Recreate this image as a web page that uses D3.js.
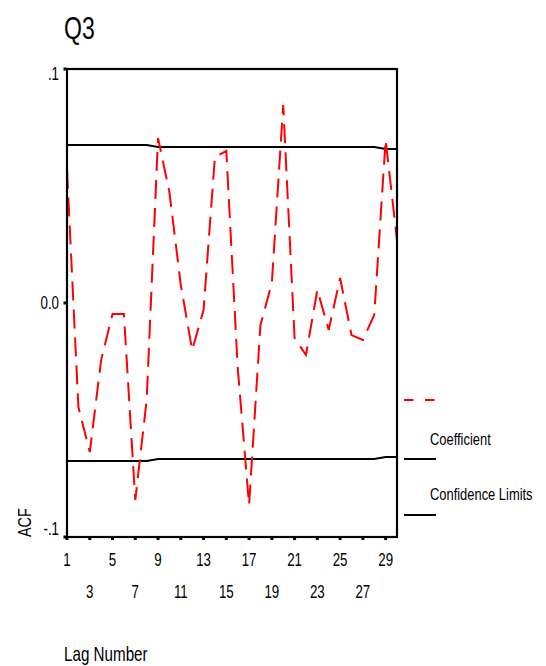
<!DOCTYPE html>
<html><head><meta charset="utf-8">
<script src="https://cdn.jsdelivr.net/npm/d3@7"></script>
<style>
html,body{margin:0;padding:0;background:#fff;}
text{font-family:"Liberation Sans",Arial,sans-serif;fill:#000;}
</style></head>
<body>
<svg id="chart" width="546" height="666"></svg>
<script>
const lags = d3.range(1, 31);
const coefficient = [0.057,-0.0444,-0.0637,-0.0244,-0.0047,-0.0047,-0.0842,-0.0415,0.0705,0.0474,
  0.0077,-0.0201,-0.003,0.0624,0.065,-0.0275,-0.0863,-0.0094,0.0085,0.0846,
  -0.015,-0.0222,0.0056,-0.0115,0.0107,-0.0137,-0.0158,-0.0051,0.0697,0.0269];
const upperLimit = [0.0675,0.0675,0.0675,0.0675,0.0675,0.0675,0.0675,0.0675,0.0667,0.0667,
  0.0667,0.0667,0.0667,0.0667,0.0667,0.0667,0.0667,0.0667,0.0667,0.0667,
  0.0667,0.0667,0.0667,0.0667,0.0667,0.0667,0.0667,0.0667,0.0658,0.0658];
const lowerLimit = upperLimit.map(v => -v);
const xTicks = [1,3,5,7,9,11,13,15,17,19,21,23,25,27,29];
const yTicks = [0.1, 0.0, -0.1];
const yTickLabels = [".1", "0.0", "-.1"];
const title = "Q3";
const legendLabels = ["Coefficient", "Confidence Limits"];

const svg = d3.select("#chart");
const L = 67, R = 397, T = 69, B = 537;
const x = d3.scaleLinear().domain([1, 30]).range([L, R]);
const y = d3.scaleLinear().domain([-0.1, 0.1]).range([B, T]);

function narrow(parent, px, py, str, size, sx, anchor, rot) {
  const g = parent.append("g").attr("transform", `translate(${px},${py})` + (rot ? ` rotate(${rot})` : ""));
  return g.append("text").attr("transform", `scale(${sx},1)`)
    .attr("font-size", size).attr("text-anchor", anchor || "start").text(str);
}

narrow(svg, 64, 39, title, 32, 0.72);

// confidence limits
const line = d3.line().x((d, i) => x(lags[i])).y(d => y(d));
[upperLimit, lowerLimit].forEach(arr => {
  svg.append("path").attr("d", line(arr)).attr("fill", "none")
    .attr("stroke", "#000").attr("stroke-width", 2);
});
// coefficient
svg.append("path").attr("d", line(coefficient)).attr("fill", "none")
  .attr("stroke", "#ff0000").attr("stroke-width", 2).attr("stroke-dasharray", "19,9");

// frame
svg.append("rect").attr("x", L).attr("y", T).attr("width", R - L).attr("height", B - T)
  .attr("fill", "none").attr("stroke", "#000").attr("stroke-width", 2.2);

// x ticks
svg.selectAll(".xt").data(xTicks).enter().append("rect")
  .attr("x", d => x(d) - 1.5).attr("y", B).attr("width", 3).attr("height", 3).attr("fill", "#000");
xTicks.forEach((d, i) => narrow(svg, x(d), i % 2 === 0 ? 565.5 : 598, String(d), 18, 0.74, "middle"));

// y ticks
svg.selectAll(".yt").data(yTicks).enter().append("rect")
  .attr("x", L - 3.5).attr("y", d => y(d) - 1.5).attr("width", 3).attr("height", 3).attr("fill", "#000");
const yOff = [11, 6, -2];
yTicks.forEach((d, i) => narrow(svg, 59, y(d) + yOff[i], yTickLabels[i], 18, 0.74, "end"));

// axis titles
narrow(svg, 31, 537, "ACF", 19, 0.76, "start", -90);
narrow(svg, 64, 661, "Lag Number", 20, 0.76);

// legend
svg.append("line").attr("x1", 404).attr("x2", 436).attr("y1", 400).attr("y2", 400)
  .attr("stroke", "#ff0000").attr("stroke-width", 2).attr("stroke-dasharray", "9.5,11.5");
narrow(svg, 430, 445, legendLabels[0], 17, 0.76);
svg.append("line").attr("x1", 404).attr("x2", 436).attr("y1", 459).attr("y2", 459)
  .attr("stroke", "#000").attr("stroke-width", 2);
narrow(svg, 430, 500, legendLabels[1], 17, 0.76);
svg.append("line").attr("x1", 404).attr("x2", 436).attr("y1", 515).attr("y2", 515)
  .attr("stroke", "#000").attr("stroke-width", 2);
</script>
</body></html>
